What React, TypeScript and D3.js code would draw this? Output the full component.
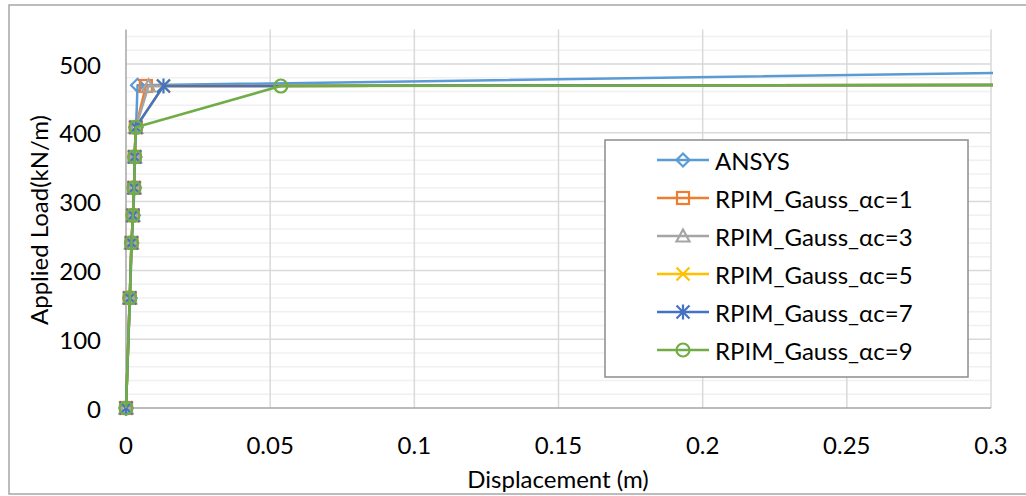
import React from "react";
import * as d3 from "d3";

const seriesNames = ["ANSYS", "RPIM_Gauss_αc=1", "RPIM_Gauss_αc=3", "RPIM_Gauss_αc=5", "RPIM_Gauss_αc=7", "RPIM_Gauss_αc=9"];
const seriesColors = ["#5B9BD5", "#ED7D31", "#A5A5A5", "#FFC000", "#4472C4", "#70AD47"];
const seriesMarkers = ["diamond", "square", "triangle", "x", "star", "circle"];

const loadAnsys = [0, 160, 240, 280, 320, 365, 408, 469, 490];
const dispAnsys = [0, 0.0014, 0.002, 0.0025, 0.0029, 0.0031, 0.0035, 0.004, 0.35];

const loadRpim = [0, 160, 240, 280, 320, 365, 408, 468, 470];
const dispRpim1 = [0, 0.0013, 0.0019, 0.0024, 0.0028, 0.003, 0.0034, 0.0069, 0.4];
const dispRpim3 = [0, 0.0013, 0.0019, 0.0024, 0.0028, 0.003, 0.0034, 0.0078, 0.4];
const dispRpim5 = [0, 0.0013, 0.0019, 0.0024, 0.0028, 0.003, 0.0034, 0.013, 0.4];
const dispRpim7 = [0, 0.0013, 0.0019, 0.0024, 0.0028, 0.003, 0.0034, 0.013, 0.4];
const dispRpim9 = [0, 0.0013, 0.0019, 0.0024, 0.0028, 0.003, 0.0034, 0.0537, 0.4];

const xTicks = [0, 0.05, 0.1, 0.15, 0.2, 0.25, 0.3];
const xTickLabels = ["0", "0.05", "0.1", "0.15", "0.2", "0.25", "0.3"];
const yTicks = [0, 100, 200, 300, 400, 500];
const yMinorTicks = d3.range(20, 550, 20);

const xTitle = "Displacement (m)";
const yTitle = "Applied Load(kN/m)";

const FONT = "Lato, 'Open Sans', sans-serif";
const FS = 24;

function Marker({ type, cx, cy, color }: { type: string; cx: number; cy: number; color: string }) {
  const s = 6.5;
  const common = { fill: "none", stroke: color, strokeWidth: 2.2 };
  switch (type) {
    case "diamond":
      return <path d={`M${cx},${cy - s}L${cx + s},${cy}L${cx},${cy + s}L${cx - s},${cy}Z`} {...common} />;
    case "square":
      return <rect x={cx - s + 0.5} y={cy - s + 0.5} width={2 * s - 1} height={2 * s - 1} {...common} />;
    case "triangle":
      return <path d={`M${cx},${cy - s}L${cx + s},${cy + s - 1}L${cx - s},${cy + s - 1}Z`} {...common} />;
    case "x":
      return <path d={`M${cx - s},${cy - s}L${cx + s},${cy + s}M${cx - s},${cy + s}L${cx + s},${cy - s}`} {...common} />;
    case "star":
      return (
        <path
          d={`M${cx - s},${cy - s}L${cx + s},${cy + s}M${cx - s},${cy + s}L${cx + s},${cy - s}M${cx},${cy - s - 1}L${cx},${cy + s + 1}`}
          {...common}
        />
      );
    case "circle":
    default:
      return <circle cx={cx} cy={cy} r={s} {...common} />;
  }
}

export default function App() {
  const W = 1026;
  const H = 496;
  const x = d3.scaleLinear().domain([0, 0.3]).range([126, 991]);
  const y = d3.scaleLinear().domain([0, 550]).range([408, 29.6]);

  const series = [
    { xs: dispAnsys, ys: loadAnsys },
    { xs: dispRpim1, ys: loadRpim },
    { xs: dispRpim3, ys: loadRpim },
    { xs: dispRpim5, ys: loadRpim },
    { xs: dispRpim7, ys: loadRpim },
    { xs: dispRpim9, ys: loadRpim },
  ].map((s, i) => ({
    name: seriesNames[i],
    color: seriesColors[i],
    marker: seriesMarkers[i],
    pts: s.xs.map((d, j) => [d, s.ys[j]] as [number, number]),
  }));

  const line = d3
    .line<[number, number]>()
    .x((d) => x(d[0]))
    .y((d) => y(d[1]));

  const [x0, x1] = x.range();
  const [yb, yt] = y.range();

  const legendX = 605;
  const legendY = 140;
  const rowH = 38;

  return (
    <svg
      width={W}
      height={H}
      style={{ position: "absolute", left: 0, top: 0, background: "#fff" }}
      fontFamily={FONT}
    >
      <defs>
        <clipPath id="plotClip">
          <rect x={x0 - 10} y={yt - 10} width={x1 - x0 + 12} height={yb - yt + 20} />
        </clipPath>
      </defs>
      <rect x={9} y={5} width={1040} height={489} fill="#fff" stroke="#a6a6a6" strokeWidth={1.5} />

      {yMinorTicks
        .filter((t) => t % 100 !== 0)
        .map((t) => (
          <line key={"mn" + t} x1={x0} x2={x1} y1={y(t)} y2={y(t)} stroke="#f0f0f0" strokeWidth={1.5} />
        ))}
      {yTicks
        .filter((t) => t > 0)
        .map((t) => (
          <line key={"mj" + t} x1={x0} x2={x1} y1={y(t)} y2={y(t)} stroke="#d9d9d9" strokeWidth={1.5} />
        ))}
      {xTicks
        .filter((t) => t > 0)
        .map((t) => (
          <line key={"vx" + t} x1={x(t)} x2={x(t)} y1={yt} y2={yb} stroke="#d9d9d9" strokeWidth={1.5} />
        ))}

      <line x1={x0} x2={x0} y1={yt} y2={yb} stroke="#a6a6a6" strokeWidth={1.5} />
      <line x1={x0} x2={x1} y1={yb} y2={yb} stroke="#a6a6a6" strokeWidth={1.5} />

      {yTicks.map((t) => (
        <text key={"yl" + t} x={101} y={y(t)} textAnchor="end" dominantBaseline="central" fontSize={FS} fill="#000">
          {t}
        </text>
      ))}
      {xTicks.map((t, i) => (
        <text key={"xl" + t} x={x(t)} y={444} textAnchor="middle" dominantBaseline="central" fontSize={FS} fill="#000">
          {xTickLabels[i]}
        </text>
      ))}

      <text x={558} y={478} textAnchor="middle" dominantBaseline="central" fontSize={FS} fill="#000">
        {xTitle}
      </text>
      <text
        transform={`translate(38,220) rotate(-90)`}
        textAnchor="middle"
        dominantBaseline="central"
        fontSize={FS}
        fill="#000"
      >
        {yTitle}
      </text>

      <g clipPath="url(#plotClip)">
        {series.map((s) => (
          <g key={s.name}>
            <path d={line(s.pts) || ""} fill="none" stroke={s.color} strokeWidth={2.5} strokeLinejoin="round" />
            {s.pts
              .filter((p) => p[0] <= 0.3)
              .map((p, j) => (
                <Marker key={j} type={s.marker} cx={x(p[0])} cy={y(p[1])} color={s.color} />
              ))}
          </g>
        ))}
      </g>

      <rect x={legendX} y={legendY} width={363} height={237} fill="#fff" stroke="#8c8c8c" strokeWidth={1.5} />
      {series.map((s, i) => {
        const cy = legendY + 20 + i * rowH;
        return (
          <g key={"lg" + s.name}>
            <line x1={657} x2={709} y1={cy} y2={cy} stroke={s.color} strokeWidth={2.5} />
            <Marker type={s.marker} cx={683} cy={cy} color={s.color} />
            <text x={715} y={cy} dominantBaseline="central" fontSize={FS} fill="#000">
              {s.name}
            </text>
          </g>
        );
      })}
    </svg>
  );
}
